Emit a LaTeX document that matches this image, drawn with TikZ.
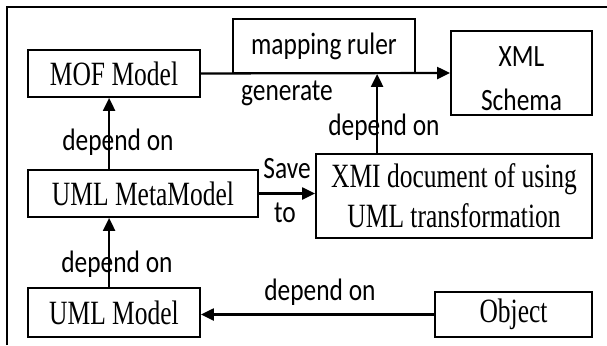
\documentclass[tikz,border=0pt]{standalone}
\usepackage{fontspec}
\setmainfont{Liberation Serif}[FakeStretch=0.75]
\newfontfamily\lblfont{Carlito}[FakeStretch=0.82]
\usetikzlibrary{arrows.meta}
\begin{document}
\begin{tikzpicture}[x=1pt,y=-1pt,
  box/.style={draw,line width=1.8pt,inner sep=0pt,align=center,
    font=\fontsize{34}{40}\selectfont},
  sansbox/.style={box,font=\lblfont\fontsize{31}{44}\selectfont},
  lbl/.style={inner sep=0pt,anchor=base,font=\lblfont\fontsize{31}{44}\selectfont},
  arr/.style={line width=2.2pt,-{Triangle[length=13pt,width=12pt]}}]
\useasboundingbox (0,0) rectangle (607,345);
% open frame (top and left edges)
\draw[line width=2pt] (7,345) -- (7,7) -- (607,7);

% boxes
\node[box,minimum width=172pt,minimum height=47pt] (mof) at (114,73.5) {MOF Model};
\node[sansbox,minimum width=182pt,minimum height=54pt] (map) at (324,46) {mapping ruler};
\node[sansbox,minimum width=141pt,minimum height=84pt] (xml) at (521.5,73) {\rule{0pt}{32pt}XML\\Schema};
\node[box,minimum width=230pt,minimum height=47pt] (meta) at (143,193.5) {UML MetaModel};
\node[box,minimum width=276pt,minimum height=84pt] (xmi) at (454,196) {XMI document of using\\UML transformation};
\node[box,minimum width=172pt,minimum height=49pt] (uml) at (114,312.5) {UML Model};
\node[box,minimum width=157pt,minimum height=45pt] (obj) at (513.5,314.5) {Object};

% connectors
\draw[arr] (mof.east) -- (xml.west);
\draw[arr] ([xshift=62pt]xmi.north west) coordinate (xmiup) -- (xmiup |- map.south);
\draw[arr] ([xshift=82pt]meta.north west) -- ([xshift=82pt]mof.south west);
\draw[arr] ([xshift=82pt]uml.north west) -- ([xshift=82pt]meta.south west);
\draw[arr] (meta.east) -- (meta.east -| xmi.west);
\draw[arr] (obj.west) -- (obj.west -| uml.east);

% connector labels
\node[lbl] (lgen) at (287,100) {generate};
\node[lbl] (ldep1) at (384,135) {depend on};
\node[lbl] (ldep2) at (118,150) {depend on};
\node[lbl] (lsave) at (287,178) {Save};
\node[lbl] (lto) at (285,222) {to};
\node[lbl] (ldep3) at (117,272) {depend on};
\node[lbl] (ldep4) at (320,300) {depend on};
\end{tikzpicture}
\end{document}
